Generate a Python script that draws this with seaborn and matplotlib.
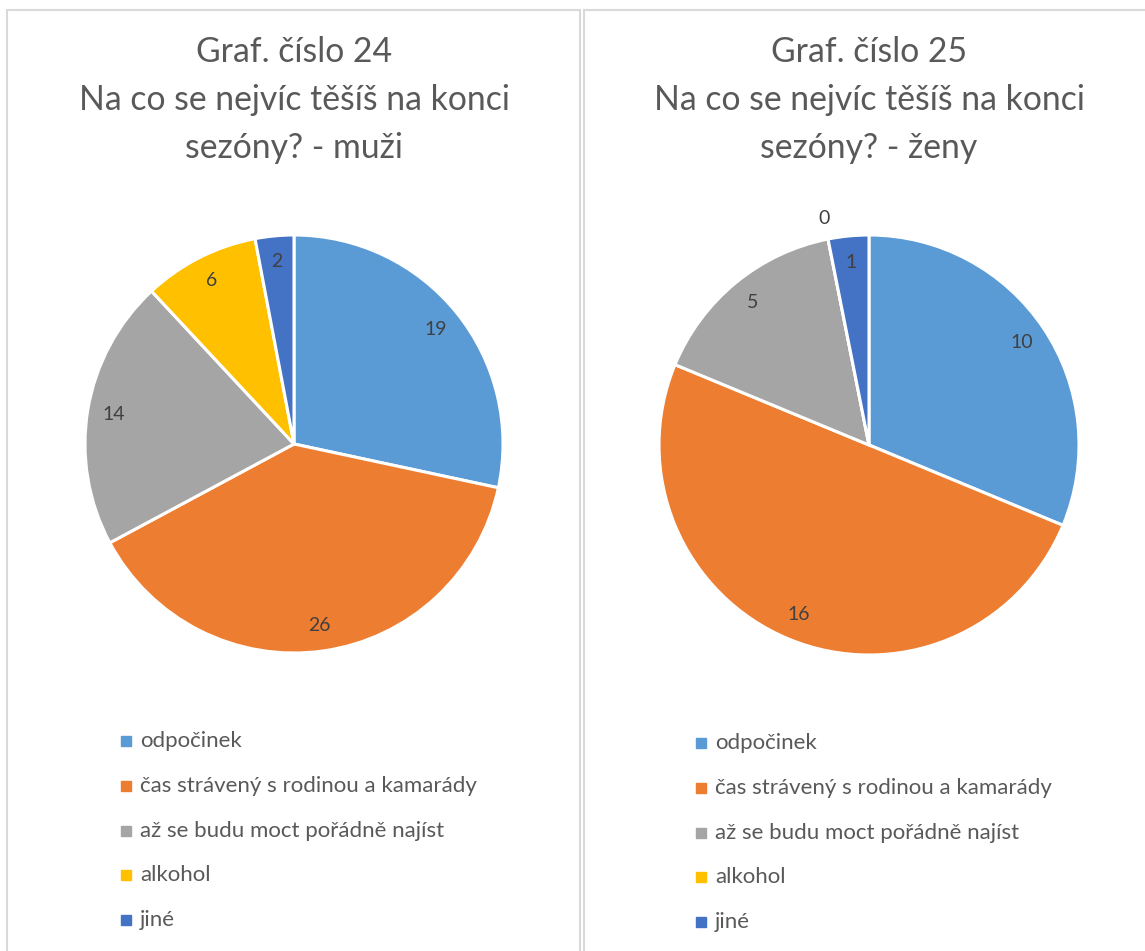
import matplotlib
matplotlib.use("Agg")
import matplotlib.pyplot as plt
from matplotlib.patches import Rectangle
from matplotlib.lines import Line2D
import numpy as np
import seaborn as sns

sns.set_theme(style="white")
plt.rcParams['font.family'] = ['Lato', 'DejaVu Sans']

categories = ["odpočinek", "čas strávený s rodinou a kamarády",
              "až se budu moct pořádně najíst", "alkohol", "jiné"]
muzi = [19, 26, 14, 6, 2]
zeny = [10, 16, 5, 0, 1]
titles = ["Graf. číslo 24\nNa co se nejvíc těšíš na konci\nsezóny? - muži",
          "Graf. číslo 25\nNa co se nejvíc těšíš na konci\nsezóny? - ženy"]

colors = sns.color_palette(["#5B9BD5", "#ED7D31", "#A5A5A5", "#FFC000", "#4472C4"])
TEXT = "#595959"
LABEL = "#404040"

W, H = 1145, 951
fig = plt.figure(figsize=(W / 100, H / 100), dpi=100)
fig.patch.set_facecolor("white")


def frame(x0, y0, x1, y1):
    """Light grey chart-area border, given in pixel coordinates."""
    fig.add_artist(Rectangle((x0 / W, 1 - y1 / H), (x1 - x0) / W, (y1 - y0) / H,
                             transform=fig.transFigure, fill=False,
                             edgecolor="#D9D9D9", linewidth=1.5))


frame(7, 10, 580, 960)
frame(584, 10, 1160, 960)

panels = [
    dict(cx=294, cy=444, r=209, tx=294, legx=120, legy=741, vals=muzi, title=titles[0]),
    dict(cx=869, cy=445, r=210, tx=869, legx=695, legy=743, vals=zeny, title=titles[1]),
]

for p in panels:
    r = p["r"]
    ax = fig.add_axes([(p["cx"] - r) / W, 1 - (p["cy"] + r) / H, 2 * r / W, 2 * r / H])
    ax.pie(p["vals"], colors=colors, startangle=90, counterclock=False,
           radius=1.0, wedgeprops=dict(edgecolor="white", linewidth=2.2))
    total = sum(p["vals"])
    ang = 90.0
    for v in p["vals"]:
        span = 360.0 * v / total
        mid = np.deg2rad(ang - span / 2)
        d = 0.875 if v > 0 else 1.1
        ax.text(d * np.cos(mid), d * np.sin(mid), str(v), ha="center", va="center",
                fontsize=14, color=LABEL)
        ang -= span
    ax.set_xlim(-1, 1)
    ax.set_ylim(-1, 1)
    ax.axis("off")

    fig.text(p["tx"] / W, 1 - 100 / H, p["title"], ha="center", va="center",
             fontsize=24.3, color=TEXT, linespacing=1.6)

    # legend entries
    for i, c in enumerate(categories):
        y = p["legy"] + i * 44.8
        fig.add_artist(Line2D([(p["legx"] + 6) / W], [1 - y / H], marker="s",
                              markersize=6.5, color=colors[i], linestyle="none",
                              transform=fig.transFigure))
        fig.text((p["legx"] + 20) / W, 1 - y / H, c, ha="left", va="center",
                 fontsize=16, color=TEXT)

fig.savefig("out.png", dpi=100, facecolor="white")
